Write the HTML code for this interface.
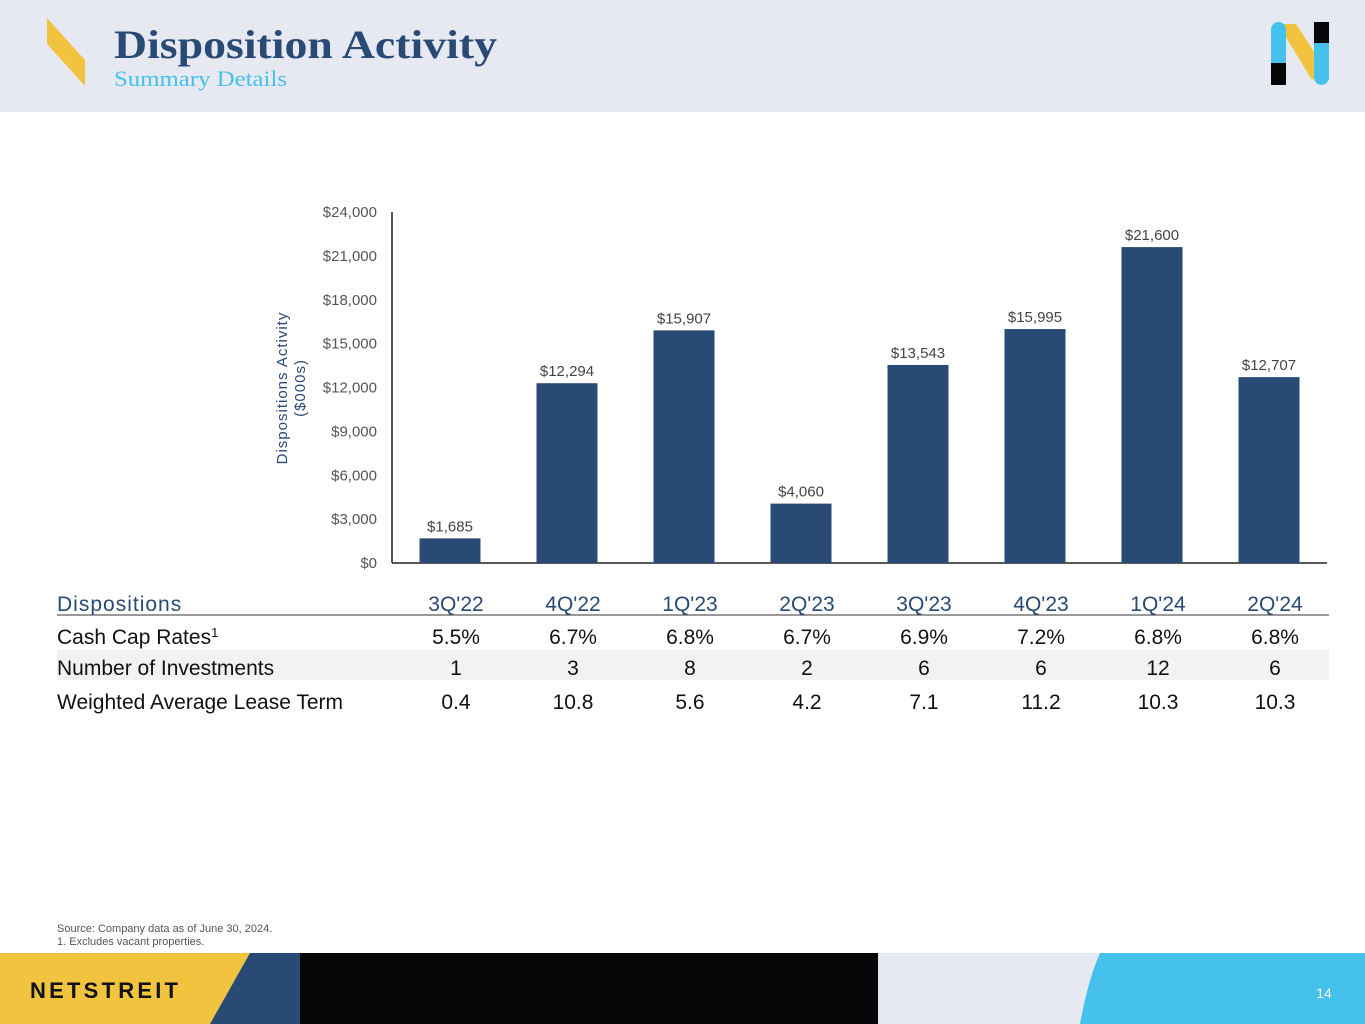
<!DOCTYPE html>
<html><head><meta charset="utf-8"><style>
html,body{margin:0;padding:0;width:1365px;height:1024px;overflow:hidden;background:#fff;font-family:"Liberation Sans",sans-serif}
svg{position:absolute;left:0;top:0}
</style></head><body>
<svg width="1365" height="1024" viewBox="0 0 1365 1024">
<rect x="0" y="0" width="1365" height="112" fill="#e6e9f2"/>
<polygon points="47,18 85,60 85,86 47,44" fill="#f1c33f"/>
<text x="114" y="58" font-family="Liberation Serif,serif" font-weight="bold" font-size="40" fill="#284a75" textLength="383" lengthAdjust="spacingAndGlyphs">Disposition Activity</text>
<text x="114" y="86" font-family="Liberation Serif,serif" font-size="22" fill="#45c1ec" textLength="173" lengthAdjust="spacingAndGlyphs">Summary Details</text>
<g>
<polygon points="1278,24 1296,24 1326,70 1312,80" fill="#f1c33f"/>
<rect x="1271" y="22" width="15" height="63" rx="7.5" fill="#45c1ec"/>
<rect x="1271" y="63" width="15" height="22" fill="#060609"/>
<rect x="1314" y="22" width="15" height="63" rx="7.5" fill="#45c1ec"/>
<rect x="1314" y="22" width="15" height="21" fill="#060609"/>
</g>
<g id="chart"></g>
<g id="table"></g>
<text x="57" y="932" font-size="11" fill="#555">Source: Company data as of June 30, 2024.</text>
<text x="57" y="945" font-size="11" fill="#555">1.  Excludes vacant properties.</text>
<g>
<rect x="0" y="953" width="1365" height="71" fill="#e6e9f2"/>
<polygon points="0,953 250,953 210,1024 0,1024" fill="#f1c33f"/>
<polygon points="250,953 300,953 300,1024 210,1024" fill="#284a75"/>
<rect x="300" y="953" width="578" height="71" fill="#060609"/>
<path d="M1100,953 L1365,953 L1365,1024 L1080,1024 Q1088,980 1100,953 Z" fill="#45c1ec"/>
<text x="30" y="998" font-size="22" font-weight="bold" letter-spacing="3" fill="#111" textLength="151">NETSTREIT</text>
<text x="1324" y="998" font-size="14" fill="#fff" text-anchor="middle">14</text>
</g>
</svg>
<script>
const categories=["3Q'22","4Q'22","1Q'23","2Q'23","3Q'23","4Q'23","1Q'24","2Q'24"];
const values=[1685,12294,15907,4060,13543,15995,21600,12707];
const yTicks=[0,3000,6000,9000,12000,15000,18000,21000,24000];
const capRates=["5.5%","6.7%","6.8%","6.7%","6.9%","7.2%","6.8%","6.8%"];
const investments=["1","3","8","2","6","6","12","6"];
const leaseTerms=["0.4","10.8","5.6","4.2","7.1","11.2","10.3","10.3"];
const NS="http://www.w3.org/2000/svg";
const y0=563,y1=212,xL=392,step=117,bw=61;
const yScale=v=>y0-(v/24000)*(y0-y1);
const xScale=i=>xL+58+i*step;
function mk(tag,attrs,parent,txt){const e=document.createElementNS(NS,tag);for(const k in attrs)e.setAttribute(k,attrs[k]);if(txt!=null)e.textContent=txt;parent.appendChild(e);return e;}
const fmt=v=>"$"+v.toLocaleString("en-US");
const chart=document.getElementById('chart');
yTicks.forEach(t=>{const e=mk('text',{x:377,y:yScale(t)+5,'font-size':15,fill:'#555','text-anchor':'end'},chart,fmt(t));

});
const ax=mk('line',{x1:xL,y1:y1,x2:xL,y2:y0,stroke:'#222','stroke-width':1.5},chart);


const bx=mk('line',{x1:xL,y1:y0,x2:1327,y2:y0,stroke:'#222','stroke-width':1.5},chart);


const yt=mk('text',{transform:'translate(287,388) rotate(-90)','font-size':15,fill:'#284a75','text-anchor':'middle','letter-spacing':1},chart);


mk('tspan',{x:0,dy:0},yt,'Dispositions Activity');
mk('tspan',{x:0,dy:18},yt,'($000s)');
values.forEach((v,i)=>{const cx=xScale(i);
const b=mk('rect',{x:cx-bw/2,y:yScale(v),width:bw,height:y0-yScale(v),fill:'#284a75'},chart);


const l=mk('text',{x:cx,y:yScale(v)-7,'font-size':15,fill:'#444','text-anchor':'middle'},chart,fmt(v));

});
const tb=document.getElementById('table');
const bg=mk('rect',{x:57,y:650,width:1272,height:30,fill:'#f2f2f2'},tb);


const hl=mk('line',{x1:57,y1:615,x2:1329,y2:615,stroke:'#333','stroke-width':1},tb);


const h=mk('text',{x:57,y:611,'font-size':21,fill:'#284a75','letter-spacing':1},tb,'Dispositions');


categories.forEach((c,i)=>{const e=mk('text',{x:xScale(i)+6,y:611,'font-size':21,fill:'#284a75','text-anchor':'middle'},tb,c);

});
const rows=[["Cash Cap Rates",capRates,644],["Number of Investments",investments,675],["Weighted Average Lease Term",leaseTerms,709]];
rows.forEach(r=>{const t=mk('text',{x:57,y:r[2],'font-size':21,fill:'#111'},tb,r[0]);


if(r[0]==="Cash Cap Rates"){mk('tspan',{'font-size':13,dy:-7},t,'1');}
r[1].forEach((v,i)=>{const e=mk('text',{x:xScale(i)+6,y:r[2],'font-size':21,fill:'#111','text-anchor':'middle'},tb,v);

});});
</script>
</body></html>
